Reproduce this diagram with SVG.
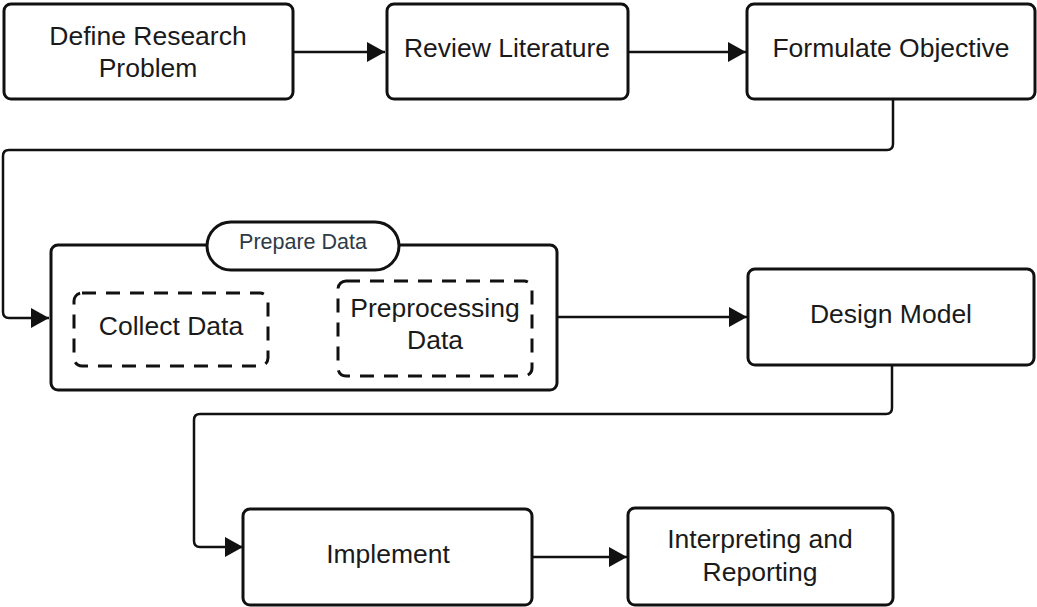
<svg xmlns="http://www.w3.org/2000/svg" width="1037" height="607" viewBox="0 0 1037 607">
<style>
.box{fill:#fff;stroke:#111;stroke-width:3}
.dash{fill:#fff;stroke:#111;stroke-width:3;stroke-dasharray:14 10}
.t{font-family:"Liberation Sans",Arial,sans-serif;font-size:26.5px;fill:#1a1a1a;text-anchor:middle}
.lbl{font-family:"Liberation Sans",Arial,sans-serif;font-size:21.5px;fill:#2e3a46;text-anchor:middle}
.c{fill:none;stroke:#111;stroke-width:2.5}
</style>
<defs>
<marker id="ah" markerUnits="userSpaceOnUse" markerWidth="20" markerHeight="22" refX="18" refY="10" orient="auto">
<path d="M0,0 L18,10 L0,20 z" fill="#111"/>
</marker>
</defs>
<rect width="1037" height="607" fill="#fff"/>
<g id="connectors">
<path class="c" d="M293,52 H385" marker-end="url(#ah)"/>
<path class="c" d="M628,52 H746" marker-end="url(#ah)"/>
<path class="c" d="M893,99 V144 Q893,150 887,150 H9 Q3,150 3,156 V312 Q3,318 9,318 H49" marker-end="url(#ah)"/>
<path class="c" d="M557,317 H747" marker-end="url(#ah)"/>
<path class="c" d="M892,365 V408 Q892,414 886,414 H200 Q194,414 194,420 V541 Q194,547 200,547 H243" marker-end="url(#ah)"/>
<path class="c" d="M532,557 H627" marker-end="url(#ah)"/>
</g>
<g id="define">
<rect class="box" x="4" y="4" width="289" height="95" rx="7"/>
<text class="t" x="148" y="45">Define Research</text>
<text class="t" x="148" y="77">Problem</text>
</g>
<g id="review">
<rect class="box" x="387" y="4" width="241" height="95" rx="7"/>
<text class="t" x="507" y="57">Review Literature</text>
</g>
<g id="formulate">
<rect class="box" x="747" y="4" width="288" height="95" rx="7"/>
<text class="t" x="891" y="57">Formulate Objective</text>
</g>
<g id="prepare">
<rect class="box" x="51" y="245" width="506" height="145" rx="7"/>
<rect class="box" x="207" y="222" width="192" height="48" rx="24"/>
<text class="lbl" x="303" y="249">Prepare Data</text>
</g>
<g id="collect">
<rect class="dash" x="74" y="293" width="194" height="73" rx="8"/>
<text class="t" x="171" y="335">Collect Data</text>
</g>
<g id="preprocess">
<rect class="dash" x="338" y="281" width="194" height="95" rx="8"/>
<text class="t" x="435" y="317">Preprocessing</text>
<text class="t" x="435" y="349">Data</text>
</g>
<g id="design">
<rect class="box" x="748" y="269" width="286" height="96" rx="7"/>
<text class="t" x="891" y="323">Design Model</text>
</g>
<g id="implement">
<rect class="box" x="243" y="509" width="289" height="96" rx="7"/>
<text class="t" x="388" y="563">Implement</text>
</g>
<g id="interpret">
<rect class="box" x="628" y="508" width="265" height="97" rx="7"/>
<text class="t" x="760" y="548">Interpreting and</text>
<text class="t" x="760" y="581">Reporting</text>
</g>
</svg>
